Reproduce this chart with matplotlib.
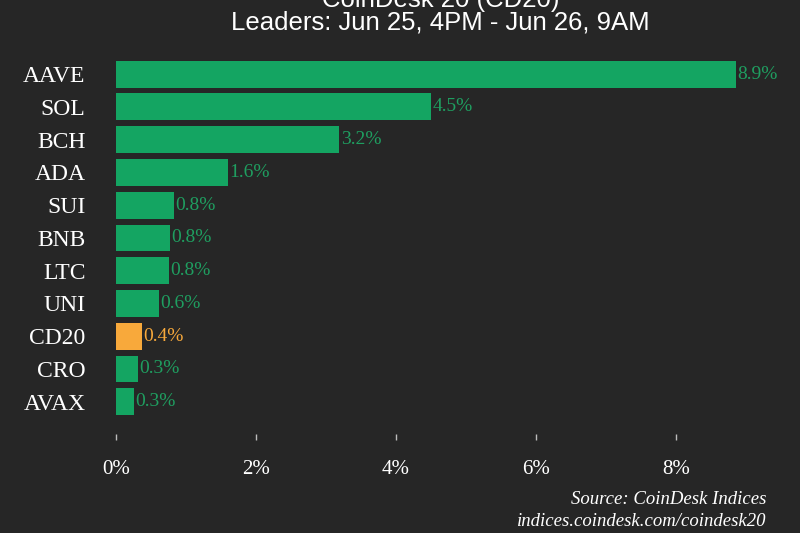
import matplotlib
matplotlib.use("Agg")
import matplotlib.pyplot as plt

# values (percent change)
coins = ["AAVE", "SOL", "BCH", "ADA", "SUI", "BNB", "LTC", "UNI", "CD20", "CRO", "AVAX"]
changes = [8.86, 4.5, 3.19, 1.6, 0.83, 0.77, 0.76, 0.61, 0.37, 0.31, 0.26]
xticks = [0, 2, 4, 6, 8]

BG = "#262626"
GREEN = "#14a562"
GREEN_TXT = "#1f9e60"
ORANGE = "#f8a93b"

fig = plt.figure(figsize=(8, 5.33), dpi=100, facecolor=BG)
ax = fig.add_axes([0.145, 0.186, 0.84, 0.705], facecolor=BG)

colors = [ORANGE if c == "CD20" else GREEN for c in coins]
pos = list(range(len(coins)))
ax.barh(pos, changes, height=0.82, color=colors)

for y, v, c in zip(pos, changes, coins):
    ax.text(v + 0.02, y, f"{v:.1f}%", va="center", ha="left",
            color=ORANGE if c == "CD20" else GREEN_TXT,
            fontsize=14, family="Liberation Serif")

ax.set_xlim(0, 9.6)
ax.set_ylim(10.98, -0.49)
ax.set_yticks(pos)
ax.set_yticklabels(coins, family="Liberation Serif", fontsize=17, color="white")
ax.set_xticks(xticks)
ax.set_xticklabels([f"{t}%" for t in xticks], family="Liberation Serif", fontsize=15, color="white")
ax.tick_params(axis="y", length=0, pad=22)
ax.tick_params(axis="x", length=4, width=1, color="#bbbbbb", pad=15)
for s in ax.spines.values():
    s.set_visible(False)

fig.text(0.551, 1.0, "CoinDesk 20 (CD20)", ha="center", va="center",
         color="white", fontsize=18.5, family="Liberation Sans")
fig.text(0.551, 0.958, "Leaders: Jun 25, 4PM - Jun 26, 9AM", ha="center", va="center",
         color="white", fontsize=18.5, family="Liberation Sans")

fig.text(0.958, 0.062, "Source: CoinDesk Indices", ha="right", va="center",
         color="white", fontsize=13.5, style="italic", family="Liberation Serif")
fig.text(0.958, 0.022, "indices.coindesk.com/coindesk20", ha="right", va="center",
         color="white", fontsize=13.5, style="italic", family="Liberation Serif")

fig.savefig("out.png", dpi=100, facecolor=BG)
